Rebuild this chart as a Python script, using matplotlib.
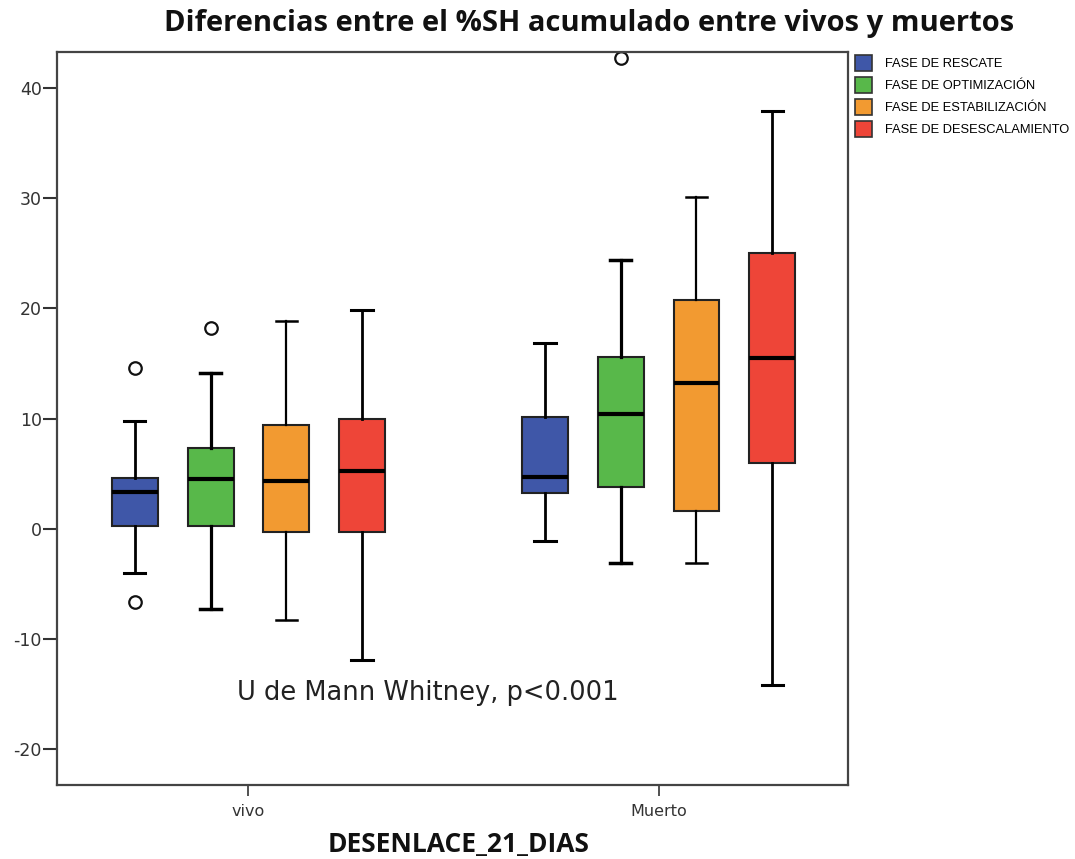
import matplotlib
matplotlib.use("Agg")
import matplotlib.pyplot as plt
from matplotlib.patches import Patch

plt.rcParams["axes.unicode_minus"] = False

# ---- data ----
groups = ["vivo", "Muerto"]
phases = ["FASE DE RESCATE", "FASE DE OPTIMIZACIÓN",
          "FASE DE ESTABILIZACIÓN", "FASE DE DESESCALAMIENTO"]
colors = ["#3f57a8", "#58b84a", "#f29a31", "#ee4538"]

# per phase: [vivo, Muerto]
whislo = [[-4.0, -1.1], [-7.3, -3.1], [-8.3, -3.1], [-11.9, -14.2]]
q1     = [[0.2, 3.2],   [0.2, 3.8],   [-0.3, 1.6],  [-0.3, 6.0]]
med    = [[3.3, 4.7],   [4.5, 10.4],  [4.3, 13.2],  [5.2, 15.5]]
q3     = [[4.55, 10.15], [7.3, 15.6], [9.4, 20.8],  [9.95, 25.0]]
whishi = [[9.8, 16.85], [14.15, 24.4], [18.9, 30.1], [19.9, 37.9]]
fliers = [[[14.6, -6.7], []], [[18.2], [42.8]], [[], []], [[], []]]

yticks = [-20, -10, 0, 10, 20, 30, 40]

fig = plt.figure(figsize=(10.75, 8.59), dpi=100)
ax = fig.add_axes([57/1075, 1-785/859, (848-57)/1075, (785-52)/859])

spacing = 0.185
width = 0.112
whisk_lw = [2.0, 2.3, 1.6, 2.0]
for i, ph in enumerate(phases):
    stats = []
    positions = []
    for g in range(len(groups)):
        stats.append(dict(whislo=whislo[i][g], q1=q1[i][g], med=med[i][g],
                          q3=q3[i][g], whishi=whishi[i][g], fliers=fliers[i][g]))
        positions.append(g + (i - 1.5) * spacing)
    ax.bxp(stats, positions=positions, widths=width, patch_artist=True,
           showfliers=True, manage_ticks=False,
           boxprops=dict(facecolor=colors[i], edgecolor="#222222", linewidth=1.5),
           medianprops=dict(color="black", linewidth=3),
           whiskerprops=dict(color="black", linewidth=whisk_lw[i]),
           capprops=dict(color="black", linewidth=whisk_lw[i] + 0.2),
           capwidths=width * 0.47,
           flierprops=dict(marker="o", markerfacecolor="white",
                           markeredgecolor="#111111", markersize=9,
                           markeredgewidth=1.6))

ax.set_xlim(-0.467, 1.462)
ax.set_ylim(-23.3, 43.3)
ax.set_xticks(range(len(groups)))
ax.set_xticklabels(groups)
ax.set_yticks(yticks)
for s in ax.spines.values():
    s.set_color("#444444")
    s.set_linewidth(1.6)
ax.tick_params(axis="y", direction="out", length=10, width=1.5,
               colors="#333333", labelsize=12.5, pad=1)
ax.tick_params(axis="x", direction="out", length=8, width=1.2,
               colors="#333333", labelsize=11.5, pad=6)

ax.text(0.437, -14.9, "U de Mann Whitney, p<0.001", ha="center", va="center",
        fontsize=18.5, color="#222222", family="DejaVu Sans")

fig.text(589/1075, 1-23/859, "Diferencias entre el %SH acumulado entre vivos y muertos",
         ha="center", va="center", fontsize=21, fontweight="bold",
         family="Open Sans", color="#111111")
fig.text(459/1075, 1-845/859, "DESENLACE_21_DIAS", ha="center", va="center",
         fontsize=19, fontweight="bold", family="Open Sans",
         color="#111111")

handles = [Patch(facecolor=c, edgecolor="#333333", linewidth=1.2) for c in colors]
fig.legend(handles, phases, loc="upper left", bbox_to_anchor=(852/1075, 1-52/859),
           frameon=False, handlelength=1.35, handleheight=1.55,
           handletextpad=1.0, labelspacing=0.45, borderaxespad=0, borderpad=0.2,
           prop=dict(family="Liberation Sans", size=9.3))

fig.savefig("out.png", dpi=100)
